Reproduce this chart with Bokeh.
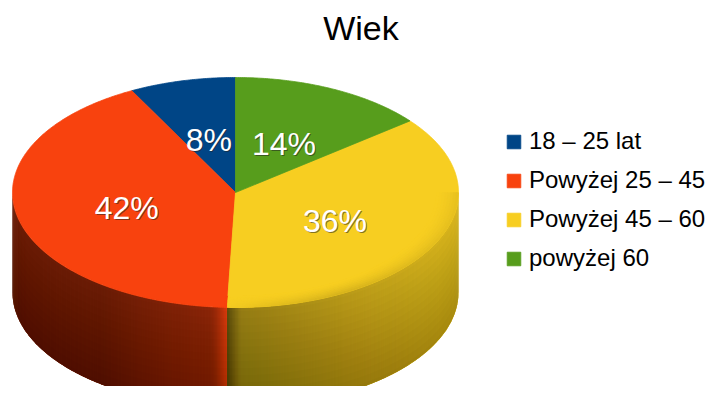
import numpy as np
from bokeh.plotting import figure
from bokeh.models import Range1d, Legend, LegendItem, ColumnDataSource
from bokeh.core.properties import value
from bokeh.embed import file_html
from bokeh.resources import INLINE

# ---- data ----
title = "Wiek"
categories = ["18 – 25 lat", "Powyżej 25 – 45", "Powyżej 45 – 60", "powyżej 60"]
shares = [7.7, 41.7, 36.3, 14.3]
colors = ["#004586", "#F8420E", "#F7CE21", "#579D1C"]

# ---- layout constants (page pixels) ----
W, H = 709, 386
CX, CY, RX, RY, DEPTH = 235.0, 192.0, 223.0, 115.0, 100.0
FONT = "Liberation Sans"

p = figure(width=W, height=H, output_backend="svg", toolbar_location=None,
           x_range=Range1d(0, W), y_range=Range1d(H, 0),
           x_axis_location=None, y_axis_location=None, min_border=0)
p.grid.visible = False
p.outline_line_color = None
p.background_fill_color = "white"
p.border_fill_color = "white"

frac = np.array(shares, dtype=float) / np.sum(shares)
starts = 90.0 + 360.0 * np.concatenate([[0.0], np.cumsum(frac)[:-1]])
ends = starts + 360.0 * frac


def hex_rgb(h):
    h = h.lstrip("#")
    return np.array([int(h[i:i + 2], 16) for i in (0, 2, 4)], dtype=float)


def to_hex(rgb):
    rgb = np.clip(np.round(rgb), 0, 255).astype(int)
    return "#%02x%02x%02x" % tuple(rgb)


def pt(a_deg, r=1.0):
    a = np.radians(a_deg)
    return CX + r * RX * np.cos(a), CY - r * RY * np.sin(a)


def slice_of(a):
    for i in range(len(frac)):
        s, e = starts[i], ends[i]
        for aa in (a, a + 360.0, a - 360.0):
            if s <= aa <= e:
                return i, aa - s, e - aa
    return 0, 0.0, 0.0


def wall_shade(am):
    i, d_start, d_end = slice_of(am)
    c = np.cos(np.radians(am))
    f = np.interp(c, [-1.0, -0.6, -0.15, 0.0, 0.5, 1.0], [0.43, 0.43, 0.55, 0.6, 0.75, 0.88])
    if d_end < 4.5:
        f += 0.30 * (1.0 - d_end / 4.5) ** 1.5
    if d_start < 3.5:
        f *= 0.62 + 0.38 * (d_start / 3.5)
    return i, f, c


# ---- sample the front half evenly along the drawn rim (about 1.5 px) ----
dense = np.linspace(180.0, 360.0, 4001)
dxs, dys = pt(dense)
arcl = np.concatenate([[0.0], np.cumsum(np.hypot(np.diff(dxs), np.diff(dys)))])
n_s = int(arcl[-1] / 1.5)
angles = list(np.interp(np.linspace(0, arcl[-1], n_s + 1), arcl, dense))
for s in list(starts) + list(ends):
    for aa in (s, s - 360.0, s + 360.0):
        if 180.0 < aa < 360.0:
            angles.append(aa)
angles = np.array(sorted(set(np.round(angles, 5))))

OVER = 0.8  # degrees of overlap so neighbouring strips leave no seams

# ---- side wall: one full-height strip per step ----
side_xs, side_ys, side_col = [], [], []
for a0, a1 in zip(angles[:-1], angles[1:]):
    am = 0.5 * (a0 + a1)
    i, f, c = wall_shade(am)
    _, _, d_end = slice_of(am)
    a1e = min(a1 + OVER, 360.0) if d_end > 0.9 * (a1 - a0) + 1e-6 else a1
    x0, y0 = pt(a0)
    x1, y1 = pt(a1e)
    side_xs.append([x0, x1, x1, x0])
    side_ys.append([y0, y1, y1 + DEPTH, y0 + DEPTH])
    side_col.append(to_hex(hex_rgb(colors[i]) * f))

p.patches(xs="xs", ys="ys", source=ColumnDataSource(dict(xs=side_xs, ys=side_ys, c=side_col)),
          fill_color="c", line_color=None)

# ---- vertical darkening of the wall: stacked translucent bands ----
arc = np.linspace(180.0, 360.0, 361)
ax, ay = pt(arc)
band_xs, band_ys = [], []
NB = 14
for k in range(NB):
    t = (k + 0.5) / NB
    band_xs.append(np.concatenate([ax, ax[::-1]]))
    band_ys.append(np.concatenate([ay + DEPTH * t, ay[::-1] + DEPTH]))
p.patches(xs=band_xs, ys=band_ys, fill_color="black", fill_alpha=0.016, line_color=None)

# ---- top slices ----
renderers = []
for i in range(len(frac)):
    n = max(2, int(np.ceil((ends[i] - starts[i]) / 0.5)) + 1)
    aa = np.linspace(starts[i], ends[i], n)
    xs, ys = pt(aa)
    xs = np.concatenate([[CX], xs])
    ys = np.concatenate([[CY], ys])
    r = p.patch(xs, ys, fill_color=colors[i], line_color=colors[i], line_width=0.8)
    renderers.append(r)

# ---- rounded rim on the lit part of the top ----
rim_xs, rim_ys, rim_col = [], [], []
NR = 8
R_IN = 0.9
for a0, a1 in zip(angles[:-1], angles[1:]):
    am = 0.5 * (a0 + a1)
    i, f, c = wall_shade(am)
    w = float(np.clip((c + 0.05) / 0.55, 0.0, 1.0))
    if w <= 0.0:
        continue
    a1e = min(a1 + OVER, 360.0)
    top = hex_rgb(colors[i])
    wall = top * f
    for k in range(NR):
        r0 = R_IN + (1.0 - R_IN) * k / NR
        r1 = R_IN + (1.0 - R_IN) * (k + 1) / NR + (0.004 if k < NR - 1 else 0.0)
        tm = ((k + 0.5) / NR) ** 1.6
        col = top * (1 - 0.55 * w * tm) + wall * (0.55 * w * tm)
        xa, ya = pt(a0, r0)
        xb, yb = pt(a1e, r0)
        xc, yc = pt(a1e, r1)
        xd, yd = pt(a0, r1)
        rim_xs.append([xa, xb, xc, xd])
        rim_ys.append([ya, yb, yc, yd])
        rim_col.append(to_hex(col))

p.patches(xs="xs", ys="ys", source=ColumnDataSource(dict(xs=rim_xs, ys=rim_ys, c=rim_col)),
          fill_color="c", line_color=None)

# ---- percentage labels ----
mids = 0.5 * (starts + ends)
lx, ly = pt(mids, r=0.5)
ly = ly + 3
labels = ["%d%%" % int(round(v * 100)) for v in frac]
p.text(x=lx + 1, y=ly + 1, text=labels, text_align="center", text_baseline="middle",
       text_font=value(FONT), text_font_size="32px", text_color="#222222", text_alpha=0.55)
p.text(x=lx, y=ly, text=labels, text_align="center", text_baseline="middle",
       text_font=value(FONT), text_font_size="32px", text_color="white")

# ---- title ----
p.text(x=[360.5], y=[27.5], text=[title], text_align="center", text_baseline="middle",
       text_font=value(FONT), text_font_size="34px", text_color="black")

# ---- legend ----
legend = Legend(items=[LegendItem(label=categories[i], renderers=[renderers[i]]) for i in range(len(frac))],
                location=(505, 114), orientation="vertical",
                glyph_width=17, glyph_height=17, label_standoff=7,
                label_text_font=FONT, label_text_font_size="24px", label_text_color="black",
                label_height=17, spacing=11, padding=0, margin=0,
                border_line_alpha=0, background_fill_alpha=0)
p.add_layout(legend, "center")

open("out.html", "w").write(file_html(p, INLINE))
